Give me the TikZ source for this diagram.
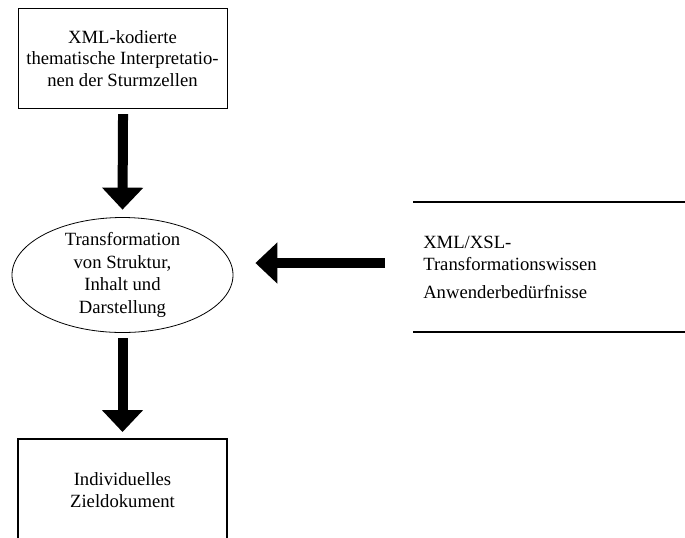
\documentclass[tikz,border=0pt]{standalone}
\usepackage{fontspec}
\setmainfont{Liberation Serif}
\usetikzlibrary{shapes.geometric,arrows.meta}
\begin{document}
\begin{tikzpicture}[x=0.75pt,y=-0.75pt,
  txt/.style={font=\fontsize{14pt}{16.3pt}\selectfont, align=center, inner sep=0pt},
  eltxt/.style={font=\fontsize{14pt}{17pt}\selectfont, align=center, inner sep=0pt},
  sidetxt/.style={font=\fontsize{14pt}{16pt}\selectfont, anchor=base west, inner sep=0pt},
  box/.style={draw, line width=0.8pt, inner sep=0pt},
  rule/.style={line width=2.2pt},
  blockarrow/.style={line width=7.5pt, -{Triangle[width=30pt,length=16.5pt]}}]
\useasboundingbox (0,0) rectangle (685,537);
% source box
\node[box, minimum width=209*0.75pt, minimum height=100*0.75pt, anchor=north west] (src) at (18,8) {};
\node[txt] (srctext) at (122.5,58.5) {XML-kodierte\\thematische Interpretatio-\\nen der Sturmzellen};
% transformation ellipse
\node[draw, ellipse, line width=0.6pt, minimum width=221*0.75pt, minimum height=115*0.75pt, inner sep=0pt] (trans) at (122.5,275) {};
\node[eltxt] (transtext) at (122.5,275) {Transformation\\von Struktur,\\Inhalt und\\Darstellung};
% target box, open at the bottom edge
\coordinate (tl) at (18,439);
\coordinate (tr) at (227,439);
\coordinate (tgt) at (122.5,439);
\draw[line width=0.8pt] (18,540) -- (tl) -- (tr) -- (227,540);
\node[txt] (target) at (122.5,490) {Individuelles\\Zieldokument};
% knowledge block between two rules
\coordinate (kl) at (413,202);
\coordinate (kin) at (385,263);
\draw[rule] (kl) -- (686,202);
\draw[rule] (413,332) -- (686,332);
\node[sidetxt] (know1) at (423,248.5) {XML/XSL-};
\node[sidetxt] (know2) at (423,270.5) {Transformationswissen};
\node[sidetxt] (needs) at (423,298) {Anwenderbedürfnisse};
% block arrows
\draw[blockarrow] ([yshift=-3.75pt]src.south) -- ([yshift=5.6pt]trans.north);
\draw[blockarrow] ([yshift=-4.1pt]trans.south) -- ([yshift=5.25pt]tgt);
\draw[blockarrow] (kin) -- ([shift={(16.5pt,9pt)}]trans.east);
\end{tikzpicture}
\end{document}
